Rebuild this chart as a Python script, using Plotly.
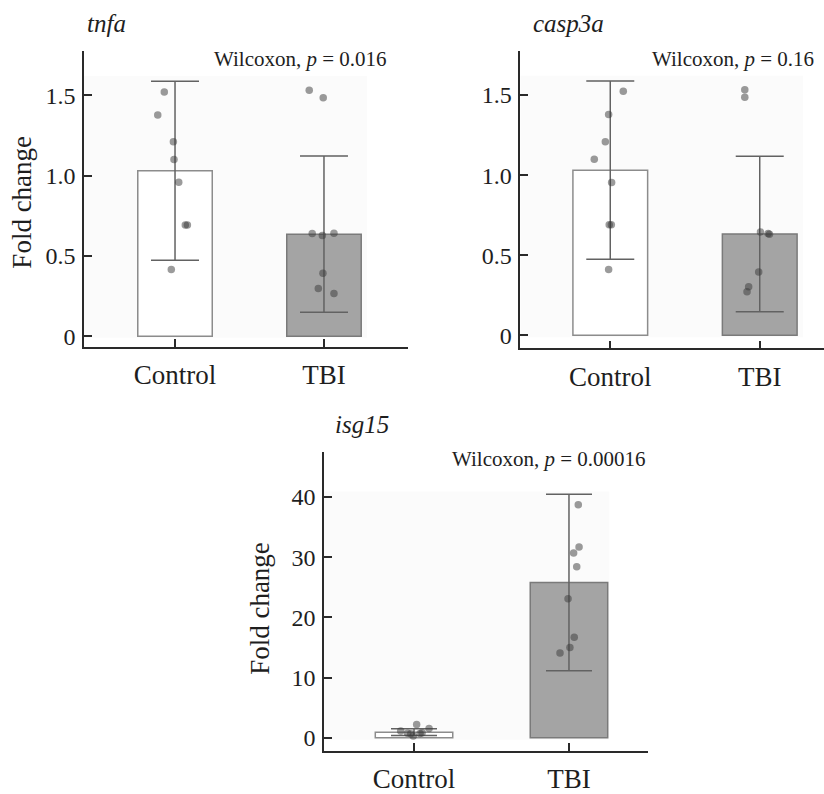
import plotly.graph_objects as go

groups = ["Control", "TBI"]
genes = ["tnfa", "casp3a", "isg15"]
p_values = ["0.016", "0.16", "0.00016"]

# bar heights (mean) and error (sd) per gene: [Control, TBI]
tnfa_mean = [1.03, 0.635]
tnfa_sd = [0.557, 0.486]
casp3a_mean = [1.031, 0.632]
casp3a_sd = [0.556, 0.486]
isg15_mean = [0.93, 25.8]
isg15_sd = [0.55, 14.65]

# individual points
tnfa_control = [1.52, 1.376, 1.21, 1.10, 0.958, 0.692, 0.692, 0.415]
tnfa_tbi = [1.531, 1.484, 0.639, 0.627, 0.641, 0.392, 0.296, 0.266]
casp3a_control = [1.523, 1.378, 1.209, 1.099, 0.954, 0.690, 0.690, 0.41]
casp3a_tbi = [1.533, 1.486, 0.645, 0.635, 0.630, 0.394, 0.302, 0.272]
isg15_control = [2.18, 1.52, 1.14, 0.82, 0.76, 0.71, 0.65, 0.27]
isg15_tbi = [38.7, 31.7, 30.7, 28.4, 23.1, 16.7, 15.0, 14.1]

# horizontal jitter of the points (category units)
tnfa_control_jit = [-0.072, -0.116, -0.011, -0.007, 0.025, 0.069, 0.083, -0.025]
tnfa_tbi_jit = [-0.099, -0.005, -0.079, -0.011, 0.067, -0.007, -0.038, 0.067]
casp3a_control_jit = [0.087, -0.011, -0.033, -0.107, 0.009, -0.007, 0.007, -0.011]
casp3a_tbi_jit = [-0.100, -0.100, 0.005, 0.056, 0.065, -0.007, -0.074, -0.085]
isg15_control_jit = [0.017, 0.097, -0.086, 0.052, -0.041, 0.039, -0.021, -0.005]
isg15_tbi_jit = [0.060, 0.065, 0.030, 0.050, -0.006, 0.034, 0.006, -0.058]

y_ticks_small = [0, 0.5, 1.0, 1.5]
y_ticktext_small = ["0", "0.5", "1.0", "1.5"]
y_ticks_big = [0, 10, 20, 30, 40]

W, H = 824, 794
FONT = "Liberation Serif"
TXT = "#1e1e1e"
AX = "#2a2a2a"

panels = [
    dict(gene="tnfa", mean=tnfa_mean, sd=tnfa_sd,
         pts=[(tnfa_control, tnfa_control_jit), (tnfa_tbi, tnfa_tbi_jit)],
         xpx=(84, 408), ypx=(51.7, 353), xr=(-0.611, 1.564), yr=(-0.069, 1.776),
         ticks=y_ticks_small, ticktext=y_ticktext_small, cap=24, p=p_values[0],
         title_xy=(85, 24), p_xy=(389, 60), ytitle=(22, 206), bg=(1.29, 1.62)),
    dict(gene="casp3a", mean=casp3a_mean, sd=casp3a_sd,
         pts=[(casp3a_control, casp3a_control_jit), (casp3a_tbi, casp3a_tbi_jit)],
         xpx=(520.3, 824), ypx=(51.7, 354.3), xr=(-0.602, 1.430), yr=(-0.083, 1.776),
         ticks=y_ticks_small, ticktext=y_ticktext_small, cap=24, p=p_values[1],
         title_xy=(531, 24), p_xy=(816, 60), ytitle=None, bg=(1.29, 1.62)),
    dict(gene="isg15", mean=isg15_mean, sd=isg15_sd,
         pts=[(isg15_control, isg15_control_jit), (isg15_tbi, isg15_tbi_jit)],
         xpx=(324, 648), ypx=(460, 763.3), xr=(-0.581, 1.510), yr=(-2.17, 47.4),
         ticks=y_ticks_big, ticktext=[str(v) for v in y_ticks_big], cap=23, p=p_values[2],
         title_xy=(333, 432), p_xy=(648, 467), ytitle=(260, 619), bg=(1.26, 40.9)),
]

fig = go.Figure()
annotations = []
shapes = []

for i, pn in enumerate(panels):
    n = "" if i == 0 else str(i + 1)
    xa, ya = "x" + n, "y" + n
    # bars with error bars
    fig.add_trace(go.Bar(
        x=[0, 1], y=pn["mean"], width=0.5, xaxis=xa, yaxis=ya,
        marker=dict(color=["#ffffff", "#a4a4a4"],
                    line=dict(color=["#8c8c8c", "#7a7a7a"], width=1.5)),
        error_y=dict(type="data", array=pn["sd"], symmetric=True,
                     color="#626262", thickness=1.5, width=pn["cap"]),
        showlegend=False, hoverinfo="skip"))
    # points
    for gi, (vals, jit) in enumerate(pn["pts"]):
        fig.add_trace(go.Scatter(
            x=[gi + j for j in jit], y=vals, mode="markers", xaxis=xa, yaxis=ya,
            marker=dict(size=7.5, color="rgba(55,55,55,0.5)", line=dict(width=0)),
            showlegend=False, hoverinfo="skip"))
    # faint panel background
    shapes.append(dict(type="rect", xref=xa, yref=ya, x0=pn["xr"][0], x1=pn["bg"][0],
                       y0=pn["yr"][0] * 0.15, y1=pn["bg"][1], fillcolor="#fbfbfb",
                       line=dict(width=0), layer="below"))
    dom_x = [pn["xpx"][0] / W, pn["xpx"][1] / W]
    dom_y = [(H - pn["ypx"][1]) / H, (H - pn["ypx"][0]) / H]
    fig.layout["xaxis" + n] = dict(
        domain=dom_x, range=list(pn["xr"]), anchor=ya, tickmode="array",
        tickvals=[0, 1], ticktext=groups, ticks="inside", ticklen=8, tickwidth=1.5,
        tickcolor=AX, showline=True, linecolor=AX, linewidth=1.6, showgrid=False,
        zeroline=False, tickfont=dict(family=FONT, size=27, color=TXT),
        ticklabelstandoff=3, fixedrange=True)
    fig.layout["yaxis" + n] = dict(
        domain=dom_y, range=list(pn["yr"]), anchor=xa, tickmode="array",
        tickvals=pn["ticks"], ticktext=pn["ticktext"], ticks="inside", ticklen=8,
        tickwidth=1.5, tickcolor=AX, showline=True, linecolor=AX, linewidth=1.6,
        showgrid=False, zeroline=False, tickfont=dict(family=FONT, size=24, color=TXT),
        ticklabelstandoff=2, fixedrange=True)
    annotations.append(dict(
        text="<i>" + pn["gene"] + "</i>", xref="paper", yref="paper",
        x=pn["title_xy"][0] / W, y=(H - pn["title_xy"][1]) / H,
        xanchor="left", yanchor="middle", showarrow=False,
        font=dict(family=FONT, size=25, color=TXT)))
    annotations.append(dict(
        text="Wilcoxon, <i>p</i> = " + pn["p"], xref="paper", yref="paper",
        x=pn["p_xy"][0] / W, y=(H - pn["p_xy"][1]) / H,
        xanchor="right", yanchor="middle", showarrow=False,
        font=dict(family=FONT, size=21, color=TXT)))
    if pn["ytitle"]:
        annotations.append(dict(
            text="Fold change", xref="paper", yref="paper",
            x=pn["ytitle"][0] / W, y=(H - pn["ytitle"][1]) / H,
            xanchor="center", yanchor="middle", textangle=-90, showarrow=False,
            font=dict(family=FONT, size=27, color=TXT)))

fig.update_layout(
    width=W, height=H, margin=dict(l=0, r=0, t=0, b=0),
    paper_bgcolor="white", plot_bgcolor="white",
    font=dict(family=FONT, color=TXT),
    annotations=annotations, shapes=shapes, barmode="overlay",
)

fig.write_html("out.html")
